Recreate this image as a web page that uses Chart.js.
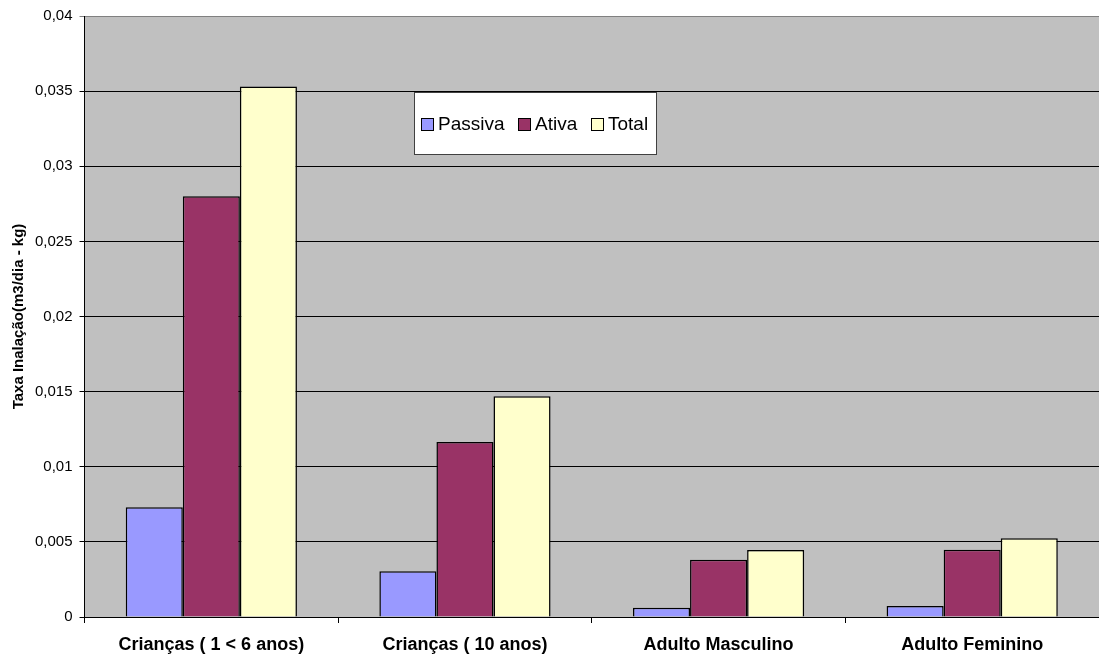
<!DOCTYPE html>
<html>
<head>
<meta charset="utf-8">
<script src="https://cdn.jsdelivr.net/npm/chart.js@4"></script>
<style>
  html, body { margin: 0; padding: 0; background: #fff; }
  #wrap { position: relative; width: 1099px; height: 656px; }
</style>
</head>
<body>
<div id="wrap"><canvas id="grafico" width="1099" height="656"></canvas></div>
<script>
// Dados
const categorias = ["Crianças ( 1 < 6 anos)", "Crianças ( 10 anos)", "Adulto Masculino", "Adulto Feminino"];
const passiva = [0.0073, 0.00305, 0.00062, 0.00073];
const ativa = [0.028, 0.01165, 0.00381, 0.00448];
const total = [0.0353, 0.0147, 0.00446, 0.00524];
const rotulosY = ["0", "0,005", "0,01", "0,015", "0,02", "0,025", "0,03", "0,035", "0,04"];

const cores = { passiva: "#9999FF", ativa: "#993366", total: "#FFFFCC" };
const fonte = "'Liberation Sans', Arial, sans-serif";

// fundo cinza da área do gráfico
const fundoPlot = {
  id: "fundoPlot",
  beforeDraw(chart) {
    const a = chart.chartArea;
    const ctx = chart.ctx;
    ctx.save();
    ctx.fillStyle = "#C0C0C0";
    ctx.fillRect(a.left, a.top, a.right - a.left, a.bottom - a.top);
    ctx.restore();
  }
};

// legenda em caixa branca dentro da área
const legendaCaixa = {
  id: "legendaCaixa",
  afterDraw(chart) {
    const ctx = chart.ctx;
    ctx.save();
    ctx.fillStyle = "#fff";
    ctx.fillRect(414, 92, 242, 62);
    ctx.strokeStyle = "#404040";
    ctx.lineWidth = 1;
    ctx.strokeRect(414.5, 92.5, 242, 62);
    ctx.font = "19px " + fonte;
    ctx.textBaseline = "middle";
    const itens = chart.data.datasets;
    const posX = [421, 518, 591];
    itens.forEach((ds, i) => {
      ctx.fillStyle = ds.backgroundColor;
      ctx.fillRect(posX[i] + 0.5, 118.5, 12, 12);
      ctx.strokeStyle = "#000";
      ctx.strokeRect(posX[i] + 0.5, 118.5, 12, 12);
      ctx.fillStyle = "#000";
      ctx.fillText(ds.label, posX[i] + 17, 125);
    });
    ctx.restore();
  }
};

const ctx = document.getElementById("grafico").getContext("2d");
new Chart(ctx, {
  type: "bar",
  data: {
    labels: categorias,
    datasets: [
      { label: "Passiva", data: passiva, backgroundColor: cores.passiva, borderColor: "#000", borderWidth: 1.5 },
      { label: "Ativa", data: ativa, backgroundColor: cores.ativa, borderColor: "#000", borderWidth: 1.5 },
      { label: "Total", data: total, backgroundColor: cores.total, borderColor: "#000", borderWidth: 1.5 }
    ]
  },
  options: {
    responsive: false,
    animation: false,
    layout: { padding: { top: 15, right: 0, left: 10, bottom: 1 } },
    datasets: { bar: { barPercentage: 1, categoryPercentage: 0.675 } },
    plugins: {
      legend: { display: false },
      tooltip: { enabled: false }
    },
    scales: {
      x: {
        afterFit: s => { s.height = 38; },
        grid: { display: true, drawOnChartArea: false, offset: true, color: "#000", tickLength: 6 },
        border: { color: "#000", width: 1 },
        ticks: {
          color: "#000",
          padding: 11,
          font: { family: fonte, size: 18, weight: "bold" }
        }
      },
      y: {
        min: 0,
        max: 0.04,
        grid: {
          color: c => (c.tick && c.tick.value >= 0.04 ? "#808080" : "#000"),
          tickLength: 5
        },
        border: { color: "#000", width: 1 },
        ticks: {
          stepSize: 0.005,
          color: "#000",
          padding: 7,
          font: { family: fonte, size: 15 },
          callback: (v, i) => rotulosY[i]
        },
        title: {
          display: true,
          text: "Taxa Inalação(m3/dia - kg)",
          color: "#000",
          padding: { top: 0, bottom: 0 },
          font: { family: fonte, size: 15, weight: "bold" }
        }
      }
    }
  },
  plugins: [fundoPlot, legendaCaixa]
});
</script>
</body>
</html>
